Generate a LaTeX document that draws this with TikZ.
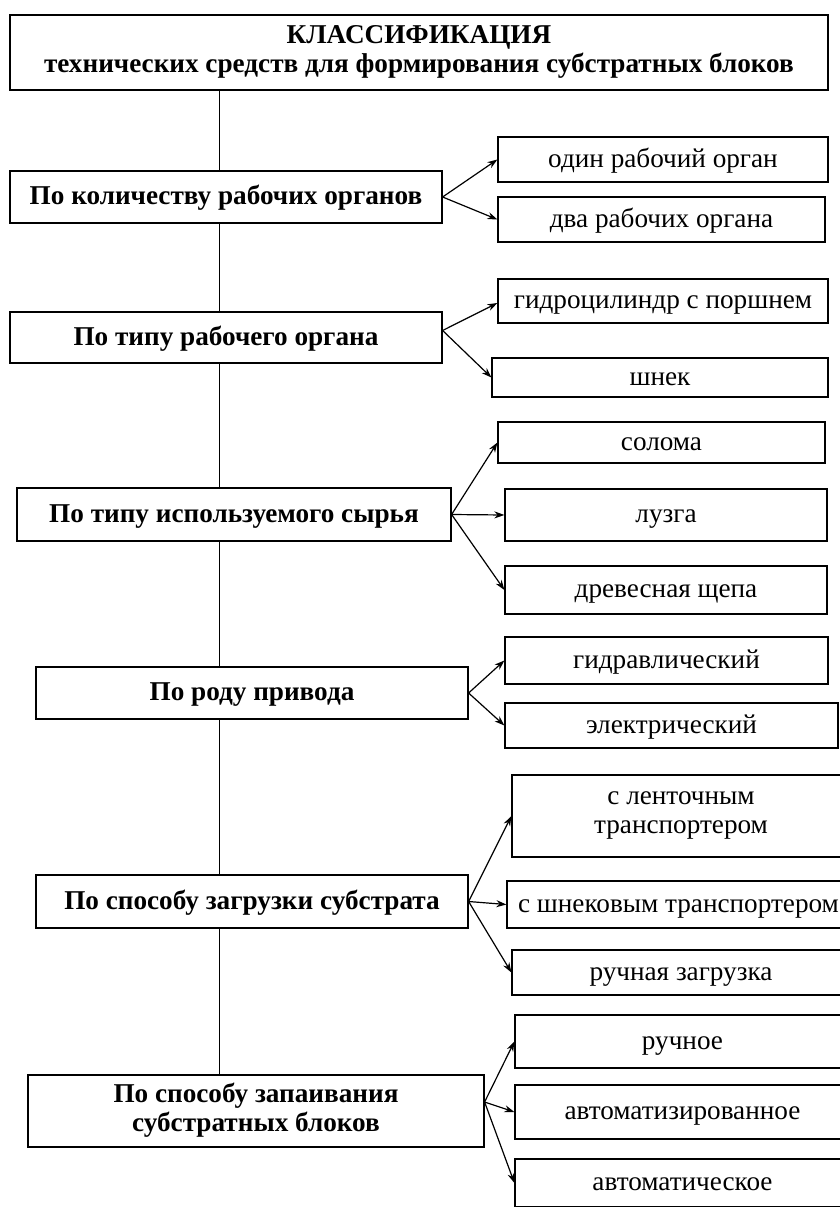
\documentclass[tikz,border=0pt]{standalone}
\usepackage{fontspec}
\setmainfont{Liberation Serif}
\usepackage{tikz}
\usetikzlibrary{arrows.meta}
\newcommand\boxstrut{\rule[-7pt]{0pt}{29pt}}
\newcommand\headstrut{\rule[-7pt]{0pt}{32pt}}
\newcommand\titlestrut{\rule[-7pt]{0pt}{38pt}}
\tikzset{
  main node/.style={rectangle,draw,line width=1.2pt,align=center,inner sep=0pt,
    font=\bfseries\fontsize{27.2}{29}\selectfont,
    execute at begin node=\boxstrut,execute at end node=\boxstrut},
  item node/.style={rectangle,draw,line width=1.2pt,align=center,inner sep=0pt,
    font=\fontsize{27.2}{29}\selectfont,
    execute at begin node=\boxstrut,execute at end node=\boxstrut},
  head node/.style={main node,execute at begin node=\headstrut},
  title node/.style={main node,execute at begin node=\titlestrut},
  trunk/.style={-,line width=1pt}
}

\begin{document}
\begin{tikzpicture}[x=1pt,y=-1pt,->,>={Stealth[length=10pt,width=7pt]},line width=1.2pt]
  \useasboundingbox (0,0) rectangle (840,1207);
  % head and the six groups
  \node [title node,minimum width=818pt,minimum height=75pt] (top) at (419,52.5)
    {КЛАССИФИКАЦИЯ\\технических средств для формирования субстратных блоков};
  \node [main node,minimum width=432pt,minimum height=52pt] (c1) at (226,197) {По количеству рабочих органов};
  \node [main node,minimum width=432pt,minimum height=51pt] (c2) at (226,337.5) {По типу рабочего органа};
  \node [main node,minimum width=434pt,minimum height=53pt] (c3) at (234,514.5) {По типу используемого сырья};
  \node [main node,minimum width=432pt,minimum height=52pt] (c4) at (252,693) {По роду привода};
  \node [main node,minimum width=432pt,minimum height=53pt] (c5) at (252,901.5) {По способу загрузки субстрата};
  \node [head node,minimum width=456pt,minimum height=72pt] (c6) at (256,1111) {По способу запаивания\\субстратных блоков};
  % items
  \node [item node,minimum width=330pt,minimum height=45pt] (i11) at (663,159.5) {один рабочий орган};
  \node [item node,minimum width=327pt,minimum height=45pt] (i12) at (661.5,219.5) {два рабочих органа};
  \node [item node,minimum width=330pt,minimum height=44pt] (i21) at (663,301) {гидроцилиндр с поршнем};
  \node [item node,minimum width=336pt,minimum height=39pt] (i22) at (660,377.5) {шнек};
  \node [item node,minimum width=327pt,minimum height=41pt] (i31) at (661.5,442.5) {солома};
  \node [item node,minimum width=322pt,minimum height=52pt] (i32) at (666,515) {лузга};
  \node [item node,minimum width=322pt,minimum height=48pt] (i33) at (666,590) {древесная щепа};
  \node [item node,minimum width=323pt,minimum height=47pt] (i41) at (666.5,660.5) {гидравлический};
  \node [item node,minimum width=333pt,minimum height=45pt] (i42) at (671.5,725.5) {электрический};
  \node [item node,minimum width=338pt,minimum height=82pt] (i51) at (681,816) {с ленточным\\транспортером};
  \node [item node,minimum width=343pt,minimum height=47pt] (i52) at (678.5,904.5) {с шнековым транспортером};
  \node [item node,minimum width=338pt,minimum height=45pt] (i53) at (681,972.5) {ручная загрузка};
  \node [item node,minimum width=335pt,minimum height=53pt] (i61) at (682.5,1041.5) {ручное};
  \node [item node,minimum width=335pt,minimum height=54pt] (i62) at (682.5,1112) {автоматизированное};
  \node [item node,minimum width=335pt,minimum height=48pt] (i63) at (682.5,1183) {автоматическое};
  % trunk
  \coordinate (tr) at (219,0);
  \draw [trunk] (top.south -| tr) -- (c1.north -| tr);
  \draw [trunk] (c1.south -| tr) -- (c2.north -| tr);
  \draw [trunk] (c2.south -| tr) -- (c3.north -| tr);
  \draw [trunk] (c3.south -| tr) -- (c4.north -| tr);
  \draw [trunk] (c4.south -| tr) -- (c5.north -| tr);
  \draw [trunk] (c5.south -| tr) -- (c6.north -| tr);
  % arrows
  \draw (c1.east) -- (i11.west);
  \draw (c1.east) -- (i12.west);
  \draw ([yshift=7pt]c2.east) -- ([yshift=-2pt]i21.west);
  \draw ([yshift=7pt]c2.east) -- (i22.west);
  \draw (c3.east) -- (i31.west);
  \draw (c3.east) -- (i32.west);
  \draw (c3.east) -- (i33.west);
  \draw (c4.east) -- (i41.west);
  \draw (c4.east) -- (i42.west);
  \draw (c5.east) -- (i51.west);
  \draw (c5.east) -- (i52.west);
  \draw (c5.east) -- (i53.west);
  \draw ([yshift=9pt]c6.east) -- (i61.west);
  \draw ([yshift=9pt]c6.east) -- (i62.west);
  \draw ([yshift=9pt]c6.east) -- (i63.west);
\end{tikzpicture}
\end{document}
